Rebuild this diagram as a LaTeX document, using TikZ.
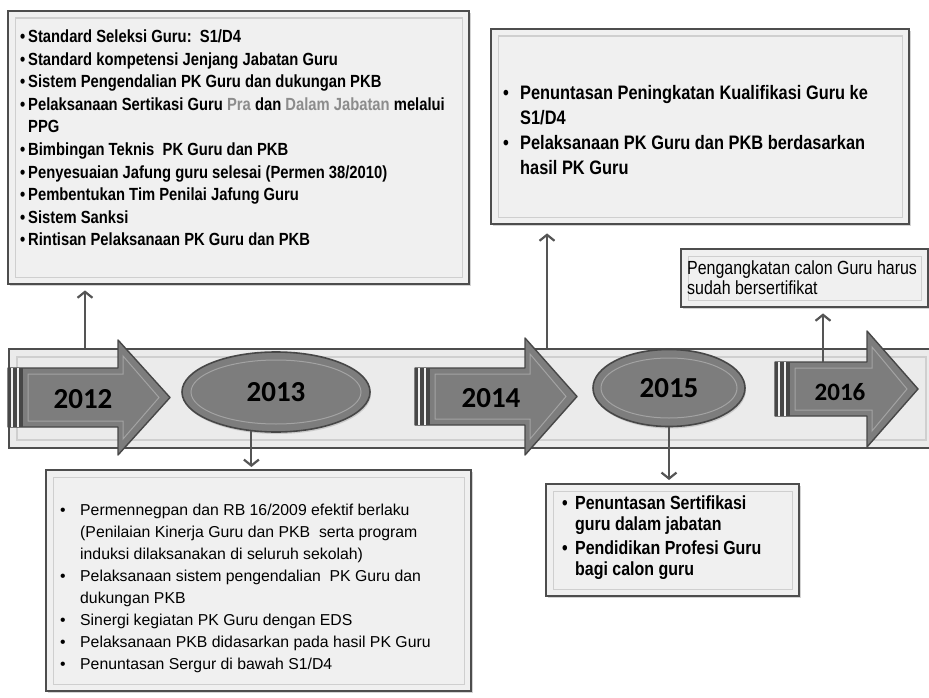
\documentclass[tikz,border=0pt]{standalone}
\usepackage{fontspec}
\setmainfont{Liberation Sans}
\newfontfamily\nsf{Liberation Sans}[FakeStretch=0.84]
\newfontfamily\yrfont{Carlito}
\usepackage{xcolor}
\usepackage{tikz}
\usetikzlibrary{calc}
\usetikzlibrary{arrows.meta}
\usetikzlibrary{shapes.geometric}
\usetikzlibrary{shadows}
\definecolor{panelfill}{HTML}{F0F0F0}
\definecolor{panelline}{HTML}{4D4D4D}
\definecolor{panelinner}{HTML}{CFCFCF}
\definecolor{bandfill}{HTML}{EBEBEB}
\definecolor{arrowfill}{HTML}{7D7D7D}
\definecolor{arrowline}{HTML}{474747}
\definecolor{arrowinner}{HTML}{A3A3A3}
\definecolor{connline}{HTML}{555555}
\definecolor{lightword}{HTML}{8C8C8C}
\newcommand{\bul}[1][8pt]{\makebox[#1][l]{\textbullet}}
\newcommand{\bsp}[1][8pt]{\hspace*{#1}}
% x0, head base, tip, mid y, body half, head half
\newcommand{\yeararrow}[6]{
	\draw[yearbody] (#1,#4-#5) -- (#2,#4-#5) -- (#2,#4-#6) -- (#3,#4) -- (#2,#4+#6) -- (#2,#4+#5) -- (#1,#4+#5) -- cycle;
	\draw[arrowinner, line width=1pt] (#1+20,#4-#5+6) -- (#2+5,#4-#5+6) -- (#2+5,#4-#6+16) -- (#3-11,#4) -- (#2+5,#4+#6-16) -- (#2+5,#4+#5-6) -- (#1+20,#4+#5-6) -- cycle;
	\fill[arrowline] (#1,#4-#5) rectangle (#1+15,#4+#5);
	\draw[bandfill!70, line width=1.6pt] (#1+4,#4-#5) -- (#1+4,#4+#5) (#1+10,#4-#5) -- (#1+10,#4+#5);
	}

\begin{document}
\begin{tikzpicture}[x=1pt,y=-1pt,
	panel/.style={draw=panelline, fill=panelfill, line width=2.4pt, anchor=north west, inner sep=0pt,
		drop shadow={shadow xshift=2pt, shadow yshift=-2pt, opacity=0.35},
		path picture={\draw[panelinner, line width=1.4pt] ([shift={(7pt,-7pt)}]path picture bounding box.north west) rectangle ([shift={(-7pt,7pt)}]path picture bounding box.south east);}},
	band/.style={draw=panelline, fill=bandfill, line width=2pt, anchor=north west, inner sep=0pt,
		path picture={\draw[panelinner, line width=1.4pt] ([shift={(8pt,-8pt)}]path picture bounding box.north west) rectangle ([shift={(-8pt,8pt)}]path picture bounding box.south east);}},
	yearbody/.style={draw=arrowline, fill=arrowfill, line width=1.4pt, line join=round},
	yearoval/.style={ellipse, draw=arrowline, fill=arrowfill, line width=1.6pt, inner sep=0pt,
		drop shadow={shadow xshift=1pt, shadow yshift=-2pt, opacity=0.3},
		font=\yrfont\bfseries\fontsize{29}{29}\selectfont},
	ellring/.style={draw=arrowinner, line width=1pt},
	yearlabel/.style={inner sep=0pt, font=\yrfont\bfseries\fontsize{29}{29}\selectfont},
	listtext/.style={anchor=north west, align=left, inner sep=0pt},
	conn/.style={draw=connline, line width=2.2pt, -{Straight Barb[length=6pt,width=15pt]}},
	]
	\useasboundingbox (0,0) rectangle (929,698);

	% boxes
	\node[panel, minimum width=461pt, minimum height=273pt] (b12) at (7,10) {};
	\node[panel, minimum width=425pt, minimum height=221pt] (b13) at (45,469) {};
	\node[panel, minimum width=418pt, minimum height=195pt] (b14) at (490,28) {};
	\node[panel, minimum width=253pt, minimum height=112pt] (b15) at (545,483) {};
	\node[panel, minimum width=247pt, minimum height=58pt] (b16) at (680,248) {};

	\node[listtext, font=\nsf\bfseries\fontsize{17.6}{22.6}\selectfont] (t12) at (20,29.5) {%
		\bul Standard Seleksi Guru:\ \ S1/D4\\
		\bul Standard kompetensi Jenjang Jabatan Guru\\
		\bul Sistem Pengendalian PK Guru dan dukungan PKB\\
		\bul Pelaksanaan Sertikasi Guru {\color{lightword}Pra} dan {\color{lightword}Dalam Jabatan} melalui\\
		\bsp PPG\\
		\bul Bimbingan Teknis\ \ PK Guru dan PKB\\
		\bul Penyesuaian Jafung guru selesai (Permen 38/2010)\\
		\bul Pembentukan Tim Penilai Jafung Guru\\
		\bul Sistem Sanksi\\
		\bul Rintisan Pelaksanaan PK Guru dan PKB};
	\node[listtext, font=\fontsize{15.8}{22}\selectfont] (t13) at (60,503.5) {%
		\bul[20pt]Permennegpan dan RB 16/2009 efektif berlaku\\
		\bsp[20pt](Penilaian Kinerja Guru dan PKB\ \ serta program\\
		\bsp[20pt]induksi dilaksanakan di seluruh sekolah)\\
		\bul[20pt]Pelaksanaan sistem pengendalian\ \ PK Guru dan\\
		\bsp[20pt]dukungan PKB\\
		\bul[20pt]Sinergi kegiatan PK Guru dengan EDS\\
		\bul[20pt]Pelaksanaan PKB didasarkan pada hasil PK Guru\\
		\bul[20pt]Penuntasan Sergur di bawah S1/D4};
	\node[listtext, font=\nsf\bfseries\fontsize{19.5}{25}\selectfont] (t14) at (503,85) {%
		\bul[17pt]Penuntasan Peningkatan Kualifikasi Guru ke\\
		\bsp[17pt]S1/D4\\
		\bul[17pt]Pelaksanaan PK Guru dan PKB berdasarkan\\
		\bsp[17pt]hasil PK Guru};
	\node[listtext, font=\nsf\bfseries\fontsize{19}{20.5}\selectfont] (t15) at (562,496) {%
		\bul[13pt]Penuntasan Sertifikasi\\
		\bsp[13pt]guru dalam jabatan\\[4pt]
		\bul[13pt]Pendidikan Profesi Guru\\
		\bsp[13pt]bagi calon guru};
	\node[listtext, font=\nsf\fontsize{19}{19.5}\selectfont] (t16) at (687,261) {%
		Pengangkatan calon Guru harus\\
		sudah bersertifikat};

	% timeline
	\node[band, minimum width=925pt, minimum height=99pt] (band) at (8,348) {};
	\yeararrow{8}{118}{170}{397.5}{29.5}{57.5}
	\yeararrow{415}{525}{577}{396.5}{28.5}{58.5}
	\yeararrow{775}{867}{918}{389}{27}{58}
	\node[yearlabel] (y12) at (83,399) {2012};
	\node[yearlabel] (y14) at (491,398) {2014};
	\node[yearlabel, font=\yrfont\bfseries\fontsize{25}{25}\selectfont] (y16) at (840,392) {2016};
	\node[yearoval, minimum width=188pt, minimum height=80pt] (e13) at (276,392) {2013};
	\draw[ellring] (e13.center) ellipse [x radius=85pt, y radius=32pt];
	\node[yearoval, minimum width=152pt, minimum height=77pt] (e15) at (669,388) {2015};
	\draw[ellring] (e15.center) ellipse [x radius=68pt, y radius=30pt];

	% connectors
	\coordinate (s12) at (85,348);
	\coordinate (s14) at (547,348);
	\coordinate (s16) at (823,362);
	\draw[conn, shorten >=5pt] (s12) -- (s12 |- b12.south);
	\draw[conn, shorten >=2pt] (e13.238) -- (e13.238 |- b13.north);
	\draw[conn, shorten >=8pt] (s14) -- (s14 |- b14.south);
	\draw[conn, shorten >=3pt] (e15.south) -- (e15.south |- b15.north);
	\draw[conn, shorten >=5pt] (s16) -- (s16 |- b16.south);
\end{tikzpicture}
\end{document}
